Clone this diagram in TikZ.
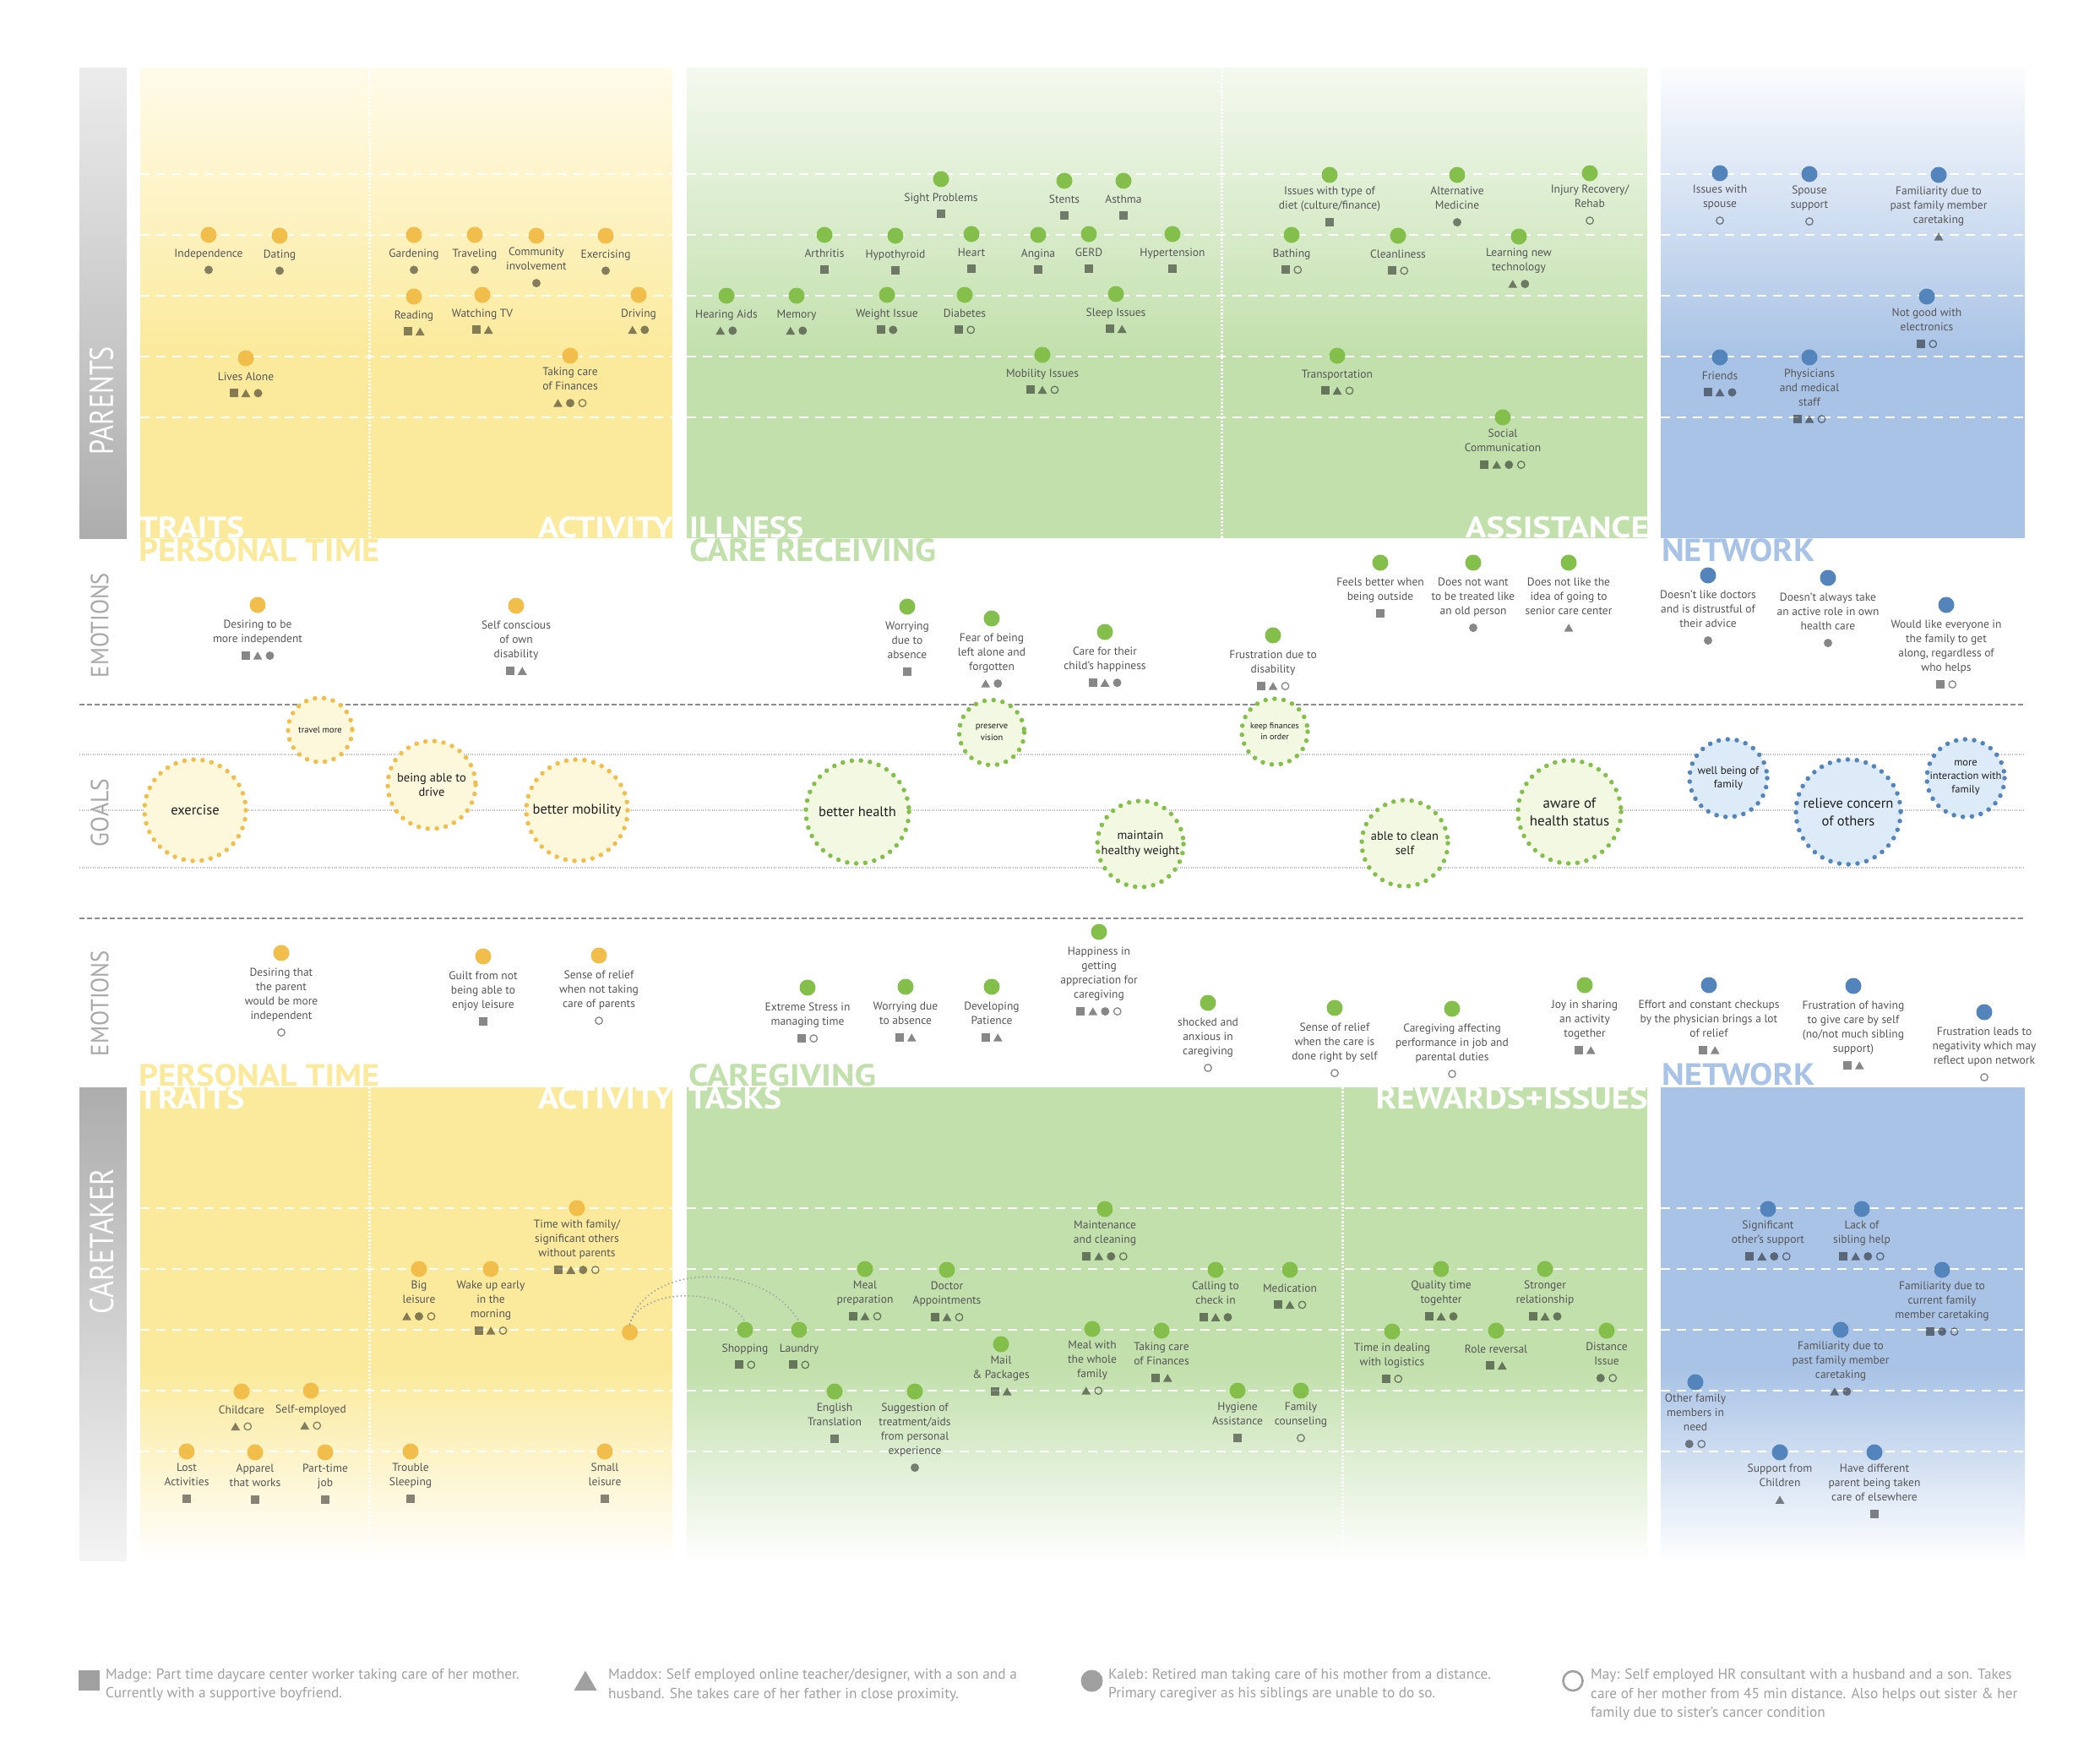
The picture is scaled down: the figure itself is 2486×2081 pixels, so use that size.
\documentclass[tikz,border=0pt]{standalone}
\usepackage{fontspec}
\setmainfont{PT Sans}
\usepackage{graphicx}
\usetikzlibrary{shapes.geometric,calc}

\definecolor{cyel}{HTML}{F1BE4B}
\definecolor{cgrn}{HTML}{84BF4B}
\definecolor{cblu}{HTML}{5384BB}
\definecolor{byel}{HTML}{FBEA9B}
\definecolor{bgrn}{HTML}{C2E0AC}
\definecolor{bblu}{HTML}{A9C3E6}
\definecolor{tyel}{HTML}{FFFBEA}
\definecolor{tgrn}{HTML}{F4F9EF}
\definecolor{tblu}{HTML}{FBFCFE}
\definecolor{fyel}{HTML}{FDF8DC}
\definecolor{fgrn}{HTML}{F2F8E2}
\definecolor{fblu}{HTML}{DDEBF8}
\definecolor{labc}{HTML}{555555}
\definecolor{sided}{HTML}{ADADAD}
\definecolor{sidel}{HTML}{ECECEC}
\definecolor{axisc}{HTML}{A8A8A8}
\definecolor{legc}{HTML}{A0A0A0}
\definecolor{goalc}{HTML}{1E1E1E}

\tikzset{
  bigdot/.style={circle, fill=#1, minimum size=19pt, inner sep=0pt},
  lab/.style={font=\fontsize{13.5}{17}\selectfont, text=labc, align=center, inner sep=0pt, anchor=north, execute at begin node=\strut, execute at end node=\strut},
  mks/.style={rectangle, fill=black, fill opacity=0.47, minimum size=10pt, inner sep=0pt},
  mkt/.style={regular polygon, regular polygon sides=3, fill=black, fill opacity=0.47, minimum size=12.5pt, inner sep=0pt, yshift=-1.5pt},
  mkc/.style={circle, fill=black, fill opacity=0.47, minimum size=10pt, inner sep=0pt},
  mko/.style={circle, draw=black, draw opacity=0.47, line width=1.3pt, minimum size=8.5pt, inner sep=0pt},
  wdash/.style={white, line width=1.6pt, dash pattern=on 11pt off 8pt},
  wdots/.style={white, line width=3pt, dash pattern=on 2.2pt off 2.2pt},
  head/.style={inner sep=0pt, font=\bfseries},
  axislab/.style={inner sep=0pt, rotate=90},
  ring/.style={draw=#1, line width=5.5pt, dash pattern=on 0pt off 10.8pt, line cap=round},
  gtext/.style={align=center, inner sep=0pt, text=goalc},
  dotcurve/.style={draw=black!35, line width=2.2pt, dash pattern=on 0pt off 4.6pt, line cap=round},
  midash/.style={draw=black!45, line width=1.3pt, dash pattern=on 6pt off 3pt},
  midot/.style={draw=black!28, line width=1.3pt, dash pattern=on 1pt off 1.6pt},
  leglab/.style={font=\fontsize{17.3}{22.5}\selectfont, text=legc, align=left, inner sep=0pt, anchor=north west, execute at begin node=\strut},
}

\def\labofs{14}
\def\mkofs{10}
\newcommand\mkrow[2]{%
  \xdef\nmk{0}%
  \foreach \m in {#2}{\xdef\nmk{\the\numexpr\nmk+1\relax}}%
  \foreach \m [count=\i] in {#2}{%
    \pgfmathsetmacro\dx{(\i-(\nmk+1)/2)*14.5}%
    \coordinate (#1m\i) at ($(#1l.south)+(\dx,\mkofs)$);
    \if s\m\node[mks] (#1k\i) at (#1m\i) {};\fi
    \if t\m\node[mkt] (#1k\i) at (#1m\i) {};\fi
    \if c\m\node[mkc] (#1k\i) at (#1m\i) {};\fi
    \if o\m\node[mko] (#1k\i) at (#1m\i) {};\fi
  }%
}
\newcommand\dotitem[6]{%
  \node[bigdot=#4] (#1) at (#2,#3) {};
  \node[lab] (#1l) at ($(#1)+(0,\labofs)$) {#5};
  \mkrow{#1}{#6}%
}
\newcommand\goal[7]{%
  \fill[#5] (#2,#3) circle[radius=#4];
  \draw[ring=#6] (#2,#3) circle[radius=#4];
  \node[gtext, font=#7] (#1) at (#2,#3) {\goaltxt};
}

\begin{document}
\begin{tikzpicture}[x=1pt,y=-1pt]
\useasboundingbox (0,0) rectangle (2486,2081);
\fill[white] (0,0) rectangle (2486,2081);

% ---------- top bands ----------
\shade[top color=sidel, bottom color=sided] (94,80) rectangle (150,637);
\shade[top color=tyel, bottom color=byel] (166,80) rectangle (796,421);
\fill[byel] (166,420) rectangle (796,637);
\shade[top color=tgrn, bottom color=bgrn] (813,80) rectangle (1950,421);
\fill[bgrn] (813,420) rectangle (1950,637);
\shade[top color=tblu, bottom color=bblu] (1966,80) rectangle (2397,421);
\fill[bblu] (1966,420) rectangle (2397,637);

% ---------- bottom bands ----------
\shade[top color=sided, bottom color=sidel!60!white] (94,1287) rectangle (150,1847);
\fill[byel] (166,1287) rectangle (796,1621);
\shade[top color=byel, bottom color=white] (166,1620) rectangle (796,1850);
\fill[bgrn] (813,1287) rectangle (1950,1621);
\shade[top color=bgrn, bottom color=white] (813,1620) rectangle (1950,1850);
\fill[bblu] (1966,1287) rectangle (2397,1621);
\shade[top color=bblu, bottom color=white] (1966,1620) rectangle (2397,1850);

% white dashed guide lines
\foreach \yy in {206,278,350,422,494}{
  \draw[wdash] (166,\yy) -- (796,\yy);
  \draw[wdash] (813,\yy) -- (1950,\yy);
  \draw[wdash] (1966,\yy) -- (2397,\yy);
}
\foreach \yy in {1430,1502,1574,1646,1718}{
  \draw[wdash] (166,\yy) -- (796,\yy);
  \draw[wdash] (813,\yy) -- (1950,\yy);
  \draw[wdash] (1966,\yy) -- (2397,\yy);
}
% white dotted separators
\draw[wdots] (437,80) -- (437,637);
\draw[wdots] (1446,80) -- (1446,637);
\draw[wdots] (437,1287) -- (437,1850);
\draw[wdots] (1589,1287) -- (1589,1850);

% ---------- side labels ----------
\node[axislab, text=white] (parents) at (120,474) {\resizebox{128pt}{28pt}{PARENTS}};
\node[axislab, text=white] (caretaker) at (120.5,1469) {\resizebox{172pt}{28pt}{CARETAKER}};
\node[axislab, text=axisc] (emo1) at (118,740) {\resizebox{124pt}{21pt}{EMOTIONS}};
\node[axislab, text=axisc] (goals) at (118,962) {\resizebox{80pt}{21pt}{GOALS}};
\node[axislab, text=axisc] (emo2) at (118,1187.5) {\resizebox{125pt}{21pt}{EMOTIONS}};

% ---------- headings ----------
\node[head, anchor=south west, text=white] (hT1) at (164,637) {\resizebox{125pt}{25pt}{TRAITS}};
\node[head, anchor=south west, text=byel] (hT2) at (164,665) {\resizebox{285pt}{27pt}{PERSONAL TIME}};
\node[head, anchor=south east, text=white] (hT3) at (797,637) {\resizebox{160pt}{25pt}{ACTIVITY}};
\node[head, anchor=south west, text=white] (hT4) at (816,637) {\resizebox{135pt}{25pt}{ILLNESS}};
\node[head, anchor=south west, text=bgrn] (hT5) at (816,665) {\resizebox{292pt}{27pt}{CARE RECEIVING}};
\node[head, anchor=south east, text=white] (hT6) at (1952,637) {\resizebox{217pt}{25pt}{ASSISTANCE}};
\node[head, anchor=south west, text=bblu] (hT7) at (1967,665) {\resizebox{181pt}{27pt}{NETWORK}};

\node[head, anchor=south west, text=byel] (hB1) at (164,1286) {\resizebox{285pt}{26pt}{PERSONAL TIME}};
\node[head, anchor=south west, text=white] (hB2) at (164,1313) {\resizebox{125pt}{26pt}{TRAITS}};
\node[head, anchor=south east, text=white] (hB3) at (797,1313) {\resizebox{160pt}{26pt}{ACTIVITY}};
\node[head, anchor=south west, text=bgrn] (hB4) at (815,1286) {\resizebox{222pt}{26pt}{CAREGIVING}};
\node[head, anchor=south west, text=white] (hB5) at (815,1313) {\resizebox{110pt}{26pt}{TASKS}};
\node[head, anchor=south west, text=bblu] (hB6) at (1967,1285) {\resizebox{181pt}{26pt}{NETWORK}};
\node[head, anchor=south east, text=white] (hB7) at (1951,1313) {\resizebox{322pt}{26pt}{REWARDS+ISSUES}};

% ---------- middle lines ----------
\draw[midash] (94,834) -- (2397,834);
\draw[midash] (94,1087) -- (2397,1087);
\foreach \yy in {893,959,1027}{\draw[midot] (94,\yy) -- (2397,\yy);}

% ---------- goals ----------
\def\goaltxt{travel more}\goal{g1}{379}{864}{38}{fyel}{cyel}{\fontsize{10.5}{13}\selectfont}
\def\goaltxt{exercise}\goal{g2}{231}{959}{60}{fyel}{cyel}{\fontsize{16.5}{20}\selectfont}
\def\goaltxt{being able to\\drive}\goal{g3}{511}{929}{52}{fyel}{cyel}{\fontsize{14.5}{17.5}\selectfont}
\def\goaltxt{better mobility}\goal{g4}{683}{959}{60}{fyel}{cyel}{\fontsize{16.5}{20}\selectfont}
\def\goaltxt{better health}\goal{g5}{1015}{961}{61}{fgrn}{cgrn}{\fontsize{16.5}{20}\selectfont}
\def\goaltxt{preserve\\vision}\goal{g6}{1174}{867}{38.5}{fgrn}{cgrn}{\fontsize{10.5}{13.5}\selectfont}
\def\goaltxt{keep finances\\in order}\goal{g7}{1509}{866}{39}{fgrn}{cgrn}{\fontsize{10}{13}\selectfont}
\def\goaltxt{maintain\\healthy weight}\goal{g8}{1350}{999}{51}{fgrn}{cgrn}{\fontsize{14.5}{17.5}\selectfont}
\def\goaltxt{able to clean\\self}\goal{g9}{1663}{998}{51}{fgrn}{cgrn}{\fontsize{14.5}{17.5}\selectfont}
\def\goaltxt{aware of\\health status}\goal{g10}{1858}{961}{61}{fgrn}{cgrn}{\fontsize{17}{20.5}\selectfont}
\def\goaltxt{well being of\\family}\goal{g11}{2046}{921}{46}{fblu}{cblu}{\fontsize{13}{15.7}\selectfont}
\def\goaltxt{relieve concern\\of others}\goal{g12}{2188}{961}{62}{fblu}{cblu}{\fontsize{16.5}{21}\selectfont}
\def\goaltxt{more\\interaction with\\family}\goal{g13}{2327}{921}{46}{fblu}{cblu}{\fontsize{12.5}{16}\selectfont}

% ---------- PARENTS : traits / activity ----------
\dotitem{pa1}{247}{278}{cyel}{Independence}{c}
\dotitem{pa2}{331}{279}{cyel}{Dating}{c}
\dotitem{pa3}{291}{424}{cyel}{Lives Alone}{s,t,c}
\dotitem{pa4}{490}{278}{cyel}{Gardening}{c}
\dotitem{pa5}{562}{278}{cyel}{Traveling}{c}
\dotitem{pa6}{635}{279}{cyel}{Community\\involvement}{c}
\dotitem{pa7}{717}{279}{cyel}{Exercising}{c}
\dotitem{pa8}{490}{351}{cyel}{Reading}{s,t}
\dotitem{pa9}{571}{349}{cyel}{Watching TV}{s,t}
\dotitem{pa10}{756}{349}{cyel}{Driving}{t,c}
\dotitem{pa11}{675}{421}{cyel}{Taking care\\of Finances}{t,c,o}

% ---------- PARENTS : illness ----------
\dotitem{il1}{1114}{212}{cgrn}{Sight Problems}{s}
\dotitem{il2}{1260}{214}{cgrn}{Stents}{s}
\dotitem{il3}{1330}{214}{cgrn}{Asthma}{s}
\dotitem{il4}{976}{278}{cgrn}{Arthritis}{s}
\dotitem{il5}{1060}{279}{cgrn}{Hypothyroid}{s}
\dotitem{il6}{1150}{277}{cgrn}{Heart}{s}
\dotitem{il7}{1229}{278}{cgrn}{Angina}{s}
\dotitem{il8}{1289}{277}{cgrn}{GERD}{s}
\dotitem{il9}{1388}{277}{cgrn}{Hypertension}{s}
\dotitem{il10}{860}{350}{cgrn}{Hearing Aids}{t,c}
\dotitem{il11}{943}{350}{cgrn}{Memory}{t,c}
\dotitem{il12}{1050}{349}{cgrn}{Weight Issue}{s,c}
\dotitem{il13}{1142}{349}{cgrn}{Diabetes}{s,o}
\dotitem{il14}{1321}{348}{cgrn}{Sleep Issues}{s,t}
\dotitem{il15}{1234}{420}{cgrn}{Mobility Issues}{s,t,o}

% ---------- PARENTS : assistance ----------
\dotitem{as1}{1574}{207}{cgrn}{Issues with type of\\diet (culture/finance)}{s}
\dotitem{as2}{1725}{207}{cgrn}{Alternative\\Medicine}{c}
\dotitem{as3}{1882}{205}{cgrn}{Injury Recovery/\\Rehab}{o}
\dotitem{as4}{1529}{278}{cgrn}{Bathing}{s,o}
\dotitem{as5}{1655}{279}{cgrn}{Cleanliness}{s,o}
\dotitem{as6}{1798}{280}{cgrn}{Learning new\\technology}{t,c}
\dotitem{as7}{1583}{421}{cgrn}{Transportation}{s,t,o}
\dotitem{as8}{1779}{494}{cgrn}{Social\\Communication}{s,t,c,o}

% ---------- PARENTS : network ----------
\dotitem{nw1}{2036}{205}{cblu}{Issues with\\spouse}{o}
\dotitem{nw2}{2142}{206}{cblu}{Spouse\\support}{o}
\dotitem{nw3}{2295}{207}{cblu}{Familiarity due to\\past family member\\caretaking}{t}
\dotitem{nw4}{2281}{351}{cblu}{Not good with\\electronics}{s,o}
\dotitem{nw5}{2036}{423}{cblu}{Friends}{s,t,c}
\dotitem{nw6}{2142}{423}{cblu}{Physicians\\and medical\\staff}{s,t,o}

% ---------- emotions (parents) ----------
\def\labofs{18}
\dotitem{e1}{305}{716}{cyel}{Desiring to be\\more independent}{s,t,c}
\dotitem{e2}{611}{717}{cyel}{Self conscious\\of own\\disability}{s,t}
\dotitem{e3}{1074}{718}{cgrn}{Worrying\\due to\\absence}{s}
\dotitem{e4}{1174}{732}{cgrn}{Fear of being\\left alone and\\forgotten}{t,c}
\dotitem{e5}{1308}{748}{cgrn}{Care for their\\child's happiness}{s,t,c}
\dotitem{e6}{1507}{752}{cgrn}{Frustration due to\\disability}{s,t,o}
\dotitem{e7}{1634}{666}{cgrn}{Feels better when\\being outside}{s}
\dotitem{e8}{1744}{666}{cgrn}{Does not want\\to be treated like\\an old person}{c}
\dotitem{e9}{1857}{666}{cgrn}{Does not like the\\idea of going to\\senior care center}{t}
\dotitem{e10}{2022}{681}{cblu}{Doesn't like doctors\\and is distrustful of\\their advice}{c}
\dotitem{e11}{2164}{684}{cblu}{Doesn't always take\\an active role in own\\health care}{c}
\dotitem{e12}{2304}{716}{cblu}{Would like everyone in\\the family to get\\along, regardless of\\who helps}{s,o}

% ---------- emotions (caretaker) ----------
\dotitem{f1}{333}{1128}{cyel}{Desiring that\\the parent\\would be more\\independent}{o}
\dotitem{f2}{572}{1132}{cyel}{Guilt from not\\being able to\\enjoy leisure}{s}
\dotitem{f3}{709}{1131}{cyel}{Sense of relief\\when not taking\\care of parents}{o}
\dotitem{f4}{956}{1169}{cgrn}{Extreme Stress in\\managing time}{s,o}
\dotitem{f5}{1072}{1168}{cgrn}{Worrying due\\to absence}{s,t}
\dotitem{f6}{1174}{1168}{cgrn}{Developing\\Patience}{s,t}
\dotitem{f7}{1301}{1103}{cgrn}{Happiness in\\getting\\appreciation for\\caregiving}{s,t,c,o}
\dotitem{f8}{1430}{1187}{cgrn}{shocked and\\anxious in\\caregiving}{o}
\dotitem{f9}{1580}{1193}{cgrn}{Sense of relief\\when the care is\\done right by self}{o}
\dotitem{f10}{1719}{1194}{cgrn}{Caregiving affecting\\performance in job and\\parental duties}{o}
\dotitem{f11}{1876}{1166}{cgrn}{Joy in sharing\\an activity\\together}{s,t}
\dotitem{f12}{2023}{1166}{cblu}{Effort and constant checkups\\by the physician brings a lot\\of relief}{s,t}
\dotitem{f13}{2194}{1167}{cblu}{Frustration of having\\to give care by self\\(no/not much sibling\\support)}{s,t}
\dotitem{f14}{2349}{1198}{cblu}{Frustration leads to\\negativity which may\\reflect upon network}{o}
\def\labofs{14}

% ---------- CARETAKER : traits / activity ----------
\dotitem{ca1}{683}{1430}{cyel}{Time with family/\\significant others\\without parents}{s,t,c,o}
\dotitem{ca2}{496}{1502}{cyel}{Big\\leisure}{t,c,o}
\dotitem{ca3}{581}{1502}{cyel}{Wake up early\\in the\\morning}{s,t,o}
\node[bigdot=cyel] (ca4) at (745.5,1577) {};
\dotitem{ca5}{286}{1647}{cyel}{Childcare}{t,o}
\dotitem{ca6}{368}{1646}{cyel}{Self-employed}{t,o}
\dotitem{ca7}{221}{1718}{cyel}{Lost\\Activities}{s}
\dotitem{ca8}{302}{1719}{cyel}{Apparel\\that works}{s}
\dotitem{ca9}{385}{1719}{cyel}{Part-time\\job}{s}
\dotitem{ca10}{486}{1718}{cyel}{Trouble\\Sleeping}{s}
\dotitem{ca11}{716}{1718}{cyel}{Small\\leisure}{s}

% ---------- CARETAKER : tasks ----------
\dotitem{cg1}{1308}{1431}{cgrn}{Maintenance\\and cleaning}{s,t,c,o}
\dotitem{cg2}{1024}{1502}{cgrn}{Meal\\preparation}{s,t,o}
\dotitem{cg3}{1121}{1503}{cgrn}{Doctor\\Appointments}{s,t,o}
\dotitem{cg4}{1439}{1503}{cgrn}{Calling to\\check in}{s,t,c}
\dotitem{cg5}{1527}{1503}{cgrn}{Medication}{s,t,o}
\dotitem{cg6}{882}{1574}{cgrn}{Shopping}{s,o}
\dotitem{cg7}{946}{1574}{cgrn}{Laundry}{s,o}
\dotitem{cg8}{1185}{1591}{cgrn}{Mail\\\& Packages}{s,t}
\dotitem{cg9}{1293}{1573}{cgrn}{Meal with\\the whole\\family}{t,o}
\dotitem{cg10}{1375}{1575}{cgrn}{Taking care\\of Finances}{s,t}
\dotitem{cg11}{988}{1647}{cgrn}{English\\Translation}{s}
\dotitem{cg12}{1083}{1647}{cgrn}{Suggestion of\\treatment/aids\\from personal\\experience}{c}
\dotitem{cg13}{1465}{1646}{cgrn}{Hygiene\\Assistance}{s}
\dotitem{cg14}{1540}{1646}{cgrn}{Family\\counseling}{o}

% dotted arcs
\draw[dotcurve] (ca4.north) .. controls (765,1493) and (905,1493) .. (cg7.north);
\draw[dotcurve] (ca4.north) .. controls (760,1523) and (860,1523) .. (cg6.north);

% ---------- CARETAKER : rewards+issues ----------
\dotitem{rw1}{1706}{1502}{cgrn}{Quality time\\togehter}{s,t,c}
\dotitem{rw2}{1829}{1502}{cgrn}{Stronger\\relationship}{s,t,c}
\dotitem{rw3}{1648}{1576}{cgrn}{Time in dealing\\with logistics}{s,o}
\dotitem{rw4}{1771}{1575}{cgrn}{Role reversal}{s,t}
\dotitem{rw5}{1902}{1575}{cgrn}{Distance\\Issue}{c,o}

% ---------- CARETAKER : network ----------
\dotitem{nb1}{2093}{1431}{cblu}{Significant\\other's support}{s,t,c,o}
\dotitem{nb2}{2204}{1431}{cblu}{Lack of\\sibling help}{s,t,c,o}
\dotitem{nb3}{2299}{1503}{cblu}{Familiarity due to\\current family\\member caretaking}{s,c,o}
\dotitem{nb4}{2179}{1574}{cblu}{Familiarity due to\\past family member\\caretaking}{t,c}
\dotitem{nb5}{2007}{1636}{cblu}{Other family\\members in\\need}{c,o}
\dotitem{nb6}{2107}{1719}{cblu}{Support from\\Children}{t}
\dotitem{nb7}{2219}{1719}{cblu}{Have different\\parent being taken\\care of elsewhere}{s}

% ---------- legend ----------
\node[rectangle, fill=legc, minimum width=25pt, minimum height=24pt, inner sep=0pt] (lgs) at (105,1989) {};
\node[regular polygon, regular polygon sides=3, fill=legc, minimum size=31pt, inner sep=0pt] (lgt) at (693,1993) {};
\node[circle, fill=legc, minimum size=26pt, inner sep=0pt] (lgc) at (1292.5,1989.5) {};
\node[circle, draw=legc, line width=2.6pt, minimum size=23pt, inner sep=0pt] (lgo) at (1862,1989.5) {};
\node[leglab] (lt1) at (125,1975) {Madge: Part time daycare center worker taking care of her mother.\\Currently with a supportive boyfriend.};
\node[leglab] (lt2) at (720,1975) {Maddox: Self employed online teacher/designer, with a son and a\\husband. She takes care of her father in close proximity.};
\node[leglab] (lt3) at (1312,1975) {Kaleb: Retired man taking care of his mother from a distance.\\Primary caregiver as his siblings are unable to do so.};
\node[leglab] (lt4) at (1883,1975) {May: Self employed HR consultant with a husband and a son. Takes\\care of her mother from 45 min distance. Also helps out sister \& her\\family due to sister's cancer condition};
\end{tikzpicture}
\end{document}
